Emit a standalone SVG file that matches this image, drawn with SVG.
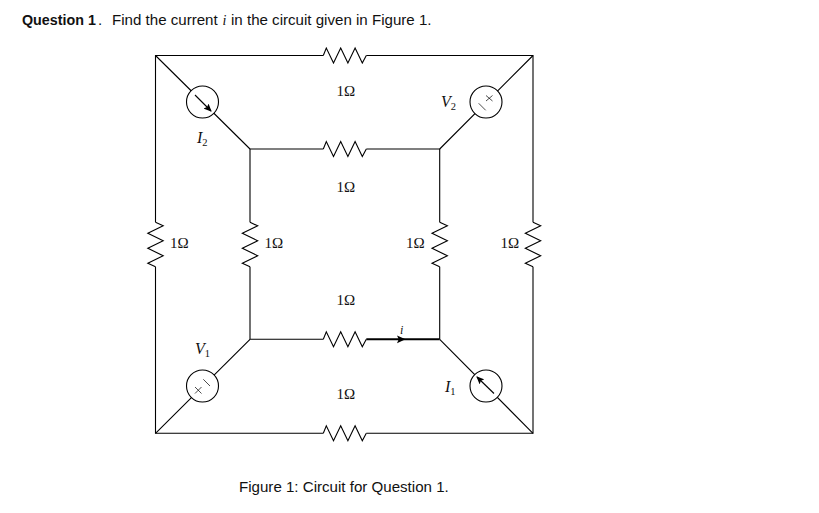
<svg xmlns="http://www.w3.org/2000/svg" width="819" height="513" viewBox="0 0 819 513">
<defs>
<style>
.w{fill:none;stroke:#000;stroke-width:1.1;stroke-linejoin:miter}
.t{stroke-width:2}
.n{stroke-width:.7}
.c{fill:#fff;stroke:#000;stroke-width:1.1}
.m{font-family:"Liberation Serif",serif;font-size:15px;fill:#111}
.i{font-style:italic;font-size:16px}
.s{font-size:10.5px;font-style:normal}
.h{font-family:"Liberation Sans",Arial,sans-serif;font-size:15.1px;fill:#111}
.b{font-weight:bold;font-size:14.3px}
</style>
<polyline id="rh" points="0,0 3,-7.5 10.2,7.5 17.4,-7.5 24.6,7.5 31.8,-7.5 39,7.5 43,0" fill="none" stroke="#000" stroke-width="1.1"/>
<polyline id="rv" points="0,0 7.7,3.5 -7.7,11 7.7,18.5 -7.7,26 7.7,33.5 -7.7,41 0,44.5" fill="none" stroke="#000" stroke-width="1.1"/>
<marker id="a" markerWidth="8" markerHeight="8" refX="7" refY="4" orient="auto" markerUnits="userSpaceOnUse"><path d="M0,0.5 L8,4 L0,7.5 L1.5,4 Z" fill="#000"/></marker>
</defs>
<rect width="819" height="513" fill="#fff"/>
<g id="title"><text class="h b" x="22" y="25">Question 1</text><text class="h" x="98" y="25">.</text><text class="h" x="112" y="25">Find the current</text><text class="m i" x="222.5" y="25" style="font-size:14px">i</text><text class="h" x="231" y="25">in the circuit given in Figure 1.</text></g>
<g id="connectors">
<path class="w" d="M155.5,222.3V55.5H323.3M366.3,55.5H533V222.3M533,266.8V433.3H366.3M323.3,433.3H155.5V266.8"/>
<path class="w" d="M250,222.3V149H323.3M366.3,149H439.7V222.3M439.7,266.8V339.3M323.3,339.3H250V266.8"/>
<path class="w t" d="M366.3,339.3H439.7"/>
<path d="M397,335.4L405.5,339.3L397,343.2L398.7,339.3Z" fill="#000"/>
<path class="w" d="M155.5,55.5L250,149M533,55.5L439.7,149M155.5,433.3L250,339.3M533,433.3L439.7,339.3"/>
</g>
<g id="R1"><use href="#rh" x="323.3" y="55.5"/><text class="m" x="336.5" y="96">1Ω</text></g>
<g id="R2"><use href="#rh" x="323.3" y="149"/><text class="m" x="336.5" y="192">1Ω</text></g>
<g id="R3"><use href="#rh" x="323.3" y="339.3"/><text class="m" x="336.5" y="305">1Ω</text></g>
<g id="R4"><use href="#rh" x="323.3" y="433.3"/><text class="m" x="336.5" y="399">1Ω</text></g>
<g id="R5"><use href="#rv" x="155.5" y="222.3"/><text class="m" x="170" y="248">1Ω</text></g>
<g id="R6"><use href="#rv" x="250" y="222.3"/><text class="m" x="264.5" y="248">1Ω</text></g>
<g id="R7"><use href="#rv" x="439.7" y="222.3"/><text class="m" x="406" y="248">1Ω</text></g>
<g id="R8"><use href="#rv" x="533" y="222.3"/><text class="m" x="500.5" y="248">1Ω</text></g>
<g id="I2"><circle class="c" cx="202.5" cy="102" r="16"/><path class="w" d="M195,95L211,111" marker-end="url(#a)"/><text class="m i" x="197" y="143">I<tspan class="s" dy="3">2</tspan></text></g>
<g id="V2"><circle class="c" cx="486" cy="102" r="16"/><path class="w n" d="M486,95.5L492.5,101M492.5,95.5L486,101M478.7,103.3L485.7,110.3"/><text class="m i" x="441" y="107">V<tspan class="s" dy="3">2</tspan></text></g>
<g id="V1"><circle class="c" cx="202.5" cy="386" r="16"/><path class="w n" d="M195,387L201.5,393.5M201.5,387L195,393.5M203.3,379.3L210,386"/><text class="m i" x="195" y="354">V<tspan class="s" dy="3">1</tspan></text></g>
<g id="I1"><circle class="c" cx="486" cy="386" r="16"/><path class="w" d="M494,393.5L477,377" marker-end="url(#a)"/><text class="m i" x="445" y="392">I<tspan class="s" dy="3">1</tspan></text></g>
<g id="current"><text class="m i" x="400" y="334" style="font-size:12px">i</text></g>
<g id="caption"><text class="h" x="239" y="492">Figure 1: Circuit for Question 1.</text></g>
</svg>
